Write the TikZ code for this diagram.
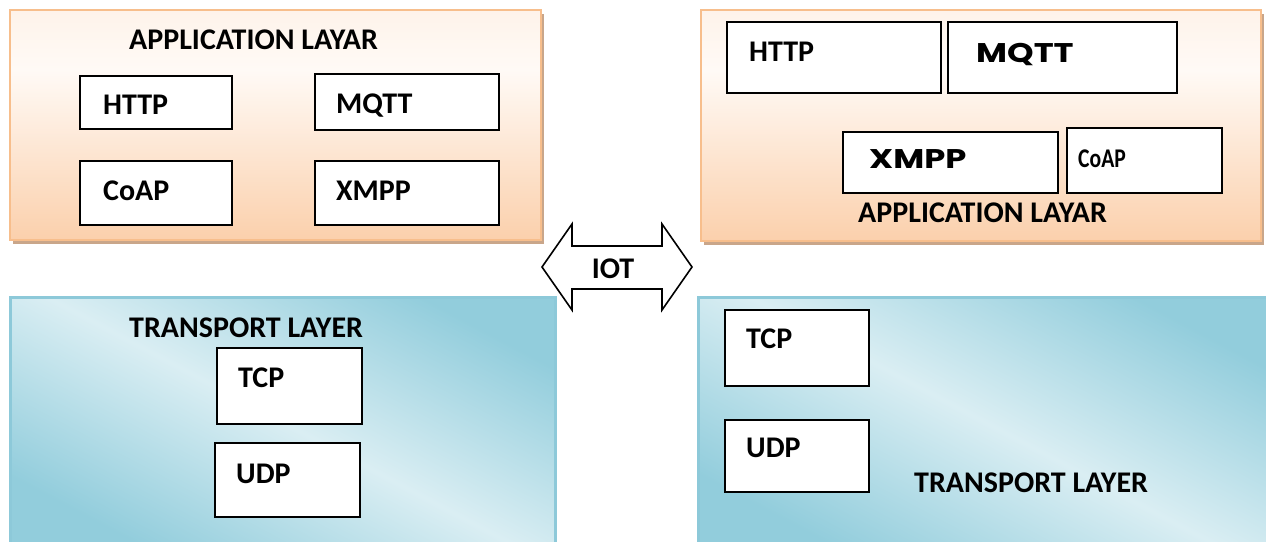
\documentclass[tikz,border=0pt]{standalone}
\usepackage{fontspec}
\setmainfont{Carlito}
\newfontfamily\widefont{Poppins}[FakeStretch=1.25]
\newfontfamily\condfont{Carlito}[FakeStretch=0.8]
\usetikzlibrary{shadows}
\definecolor{peachD}{HTML}{FBD0AC}
\definecolor{peachM}{HTML}{FFFAF6}
\definecolor{peachL}{HTML}{FEF3EA}
\definecolor{peachB}{HTML}{F7BE8C}
\definecolor{shadowc}{HTML}{C9A68A}
\definecolor{blueD}{HTML}{92CDDC}
\definecolor{blueL}{HTML}{DAEEF3}
\definecolor{blueB}{HTML}{8DC9D9}
\pgfdeclareverticalshading{peachshade}{100bp}{color(0bp)=(peachD); color(25bp)=(peachD); color(62bp)=(peachM); color(75bp)=(peachL); color(100bp)=(peachL)}
\begin{document}
\begin{tikzpicture}[x=1pt,y=-1pt,
  peachpanel/.style={rectangle, draw=peachB, line width=2.2pt, shading=peachshade, inner sep=0pt,
    drop shadow={shadow xshift=3pt, shadow yshift=-3.5pt, fill=shadowc, opacity=1}},
  bluepanel/.style={rectangle, draw=blueB, line width=3pt, top color=blueD, bottom color=blueD, middle color=blueL, shading angle=-28, inner sep=0pt},
  protobox/.style={rectangle, draw=black, line width=1.6pt, fill=white, inner sep=0pt},
  lbl/.style={anchor=base west, inner sep=0pt, font=\fontsize{30}{34}\selectfont\bfseries},
  widelbl/.style={anchor=base west, inner sep=0pt, font=\fontsize{27}{32}\selectfont\widefont\bfseries},
  condlbl/.style={anchor=base west, inner sep=0pt, font=\fontsize{27}{31}\selectfont\condfont\bfseries},
  bigarrow/.style={draw=black, line width=1.6pt, fill=white, line join=miter}
]
\useasboundingbox (0,0) rectangle (1266,541);
\fill[white] (0,0) rectangle (1266,541);

% ---------- top left: application layer ----------
\node[peachpanel, minimum width=531, minimum height=230] (appL) at (275.5,125) {};
\node[lbl] (appLt) at (129,49) {APPLICATION LAYAR};
\node[protobox, minimum width=152, minimum height=53] (httpL) at (156,102.5) {};
\node[protobox, minimum width=184, minimum height=56] (mqttL) at (407,102) {};
\node[protobox, minimum width=152, minimum height=64] (coapL) at (156,193) {};
\node[protobox, minimum width=184, minimum height=64] (xmppL) at (407,193) {};
\node[lbl] (httpLt) at (103,114) {HTTP};
\node[lbl] (mqttLt) at (336,113) {MQTT};
\node[lbl] (coapLt) at (103,200) {CoAP};
\node[lbl] (xmppLt) at (336,200) {XMPP};

% ---------- top right: application layer ----------
\node[peachpanel, minimum width=560, minimum height=231] (appR) at (981,125.5) {};
\node[protobox, minimum width=214, minimum height=71] (httpR) at (834,57.5) {};
\node[protobox, minimum width=229, minimum height=71] (mqttR) at (1062.5,57.5) {};
\node[protobox, minimum width=215, minimum height=61] (xmppR) at (950.5,162.5) {};
\node[protobox, minimum width=155, minimum height=65] (coapR) at (1144.5,160.5) {};
\node[lbl] (httpRt) at (749,61) {HTTP};
\node[widelbl] (mqttRt) at (976,62) {MQTT};
\node[widelbl] (xmppRt) at (869,168) {XMPP};
\node[condlbl] (coapRt) at (1078,167) {CoAP};
\node[lbl] (appRt) at (858,222) {APPLICATION LAYAR};

% ---------- bottom left: transport layer ----------
\node[bluepanel, minimum width=545, minimum height=250] (trL) at (282.5,422) {};
\node[lbl] (trLt) at (129,337) {TRANSPORT LAYER};
\node[protobox, minimum width=145, minimum height=76] (tcpL) at (289.5,386) {};
\node[protobox, minimum width=145, minimum height=74] (udpL) at (287.5,480) {};
\node[lbl] (tcpLt) at (238,387) {TCP};
\node[lbl] (udpLt) at (236,483) {UDP};

% ---------- bottom right: transport layer ----------
\node[bluepanel, minimum width=574, minimum height=250] (trR) at (985,422) {};
\node[protobox, minimum width=144, minimum height=76] (tcpR) at (797,348) {};
\node[protobox, minimum width=144, minimum height=72] (udpR) at (797,456) {};
\node[lbl] (tcpRt) at (746,348) {TCP};
\node[lbl] (udpRt) at (746,457) {UDP};
\node[lbl] (trRt) at (914,492) {TRANSPORT LAYER};

% ---------- IOT double arrow ----------
\coordinate (iotc) at (617,267);
\draw[bigarrow] (542,267) -- (572,224) -- (572,246) -- (662,246) -- (662,224) -- (692,267)
  -- (662,310) -- (662,289) -- (572,289) -- (572,310) -- cycle;
\node[lbl, anchor=base] (iot) at (613,278) {IOT};
\end{tikzpicture}
\end{document}
